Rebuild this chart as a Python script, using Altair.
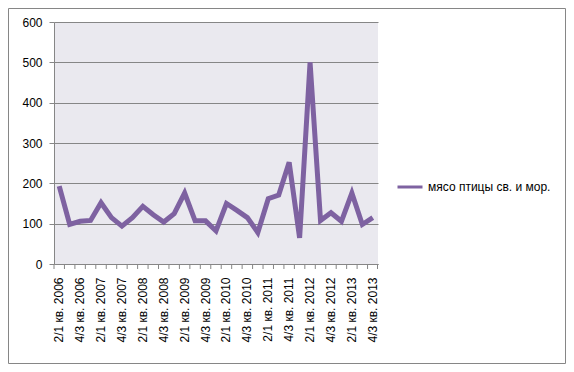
import altair as alt
import pandas as pd

categories = [
    "2/1 кв. 2006", "3/2 кв. 2006", "4/3 кв. 2006",
    "1/4 кв. 2007", "2/1 кв. 2007", "3/2 кв. 2007", "4/3 кв. 2007",
    "1/4 кв. 2008", "2/1 кв. 2008", "3/2 кв. 2008", "4/3 кв. 2008",
    "1/4 кв. 2009", "2/1 кв. 2009", "3/2 кв. 2009", "4/3 кв. 2009",
    "1/4 кв. 2010", "2/1 кв. 2010", "3/2 кв. 2010", "4/3 кв. 2010",
    "1/4 кв. 2011", "2/1 кв. 2011", "3/2 кв. 2011", "4/3 кв. 2011",
    "1/4 кв. 2012", "2/1 кв. 2012", "3/2 кв. 2012", "4/3 кв. 2012",
    "1/4 кв. 2013", "2/1 кв. 2013", "3/2 кв. 2013", "4/3 кв. 2013",
]
values = [193, 98, 106, 108, 152, 115, 94, 115, 143, 122, 104, 125, 176, 107, 107, 82,
          150, 133, 115, 78, 162, 171, 252, 65, 500, 108, 127, 106, 176, 98, 115]
series_name = "мясо птицы св. и мор."
y_ticks = [0, 100, 200, 300, 400, 500, 600]
shown_labels = categories[0::2]

df = pd.DataFrame({"cat": categories, "val": values, "series": [series_name] * len(values)})

FONT = "Liberation Sans"
GRAY = "#868686"
W, H = 324, 242
BAND = W / len(categories)

xenc = alt.X("cat:N", sort=categories, title=None,
             scale=alt.Scale(paddingInner=0, paddingOuter=0),
             axis=alt.Axis(values=shown_labels, labelAngle=270, ticks=False,
                           domainColor=GRAY, labelPadding=13,
                           labelFont=FONT, labelFontSize=12, labelColor="#000000",
                           grid=False))

line = alt.Chart(df).mark_line(strokeWidth=5).encode(
    x=xenc,
    y=alt.Y("val:Q", title=None,
            scale=alt.Scale(domain=[0, 600], nice=False),
            axis=alt.Axis(values=y_ticks, tickSize=5, tickColor=GRAY, domainColor=GRAY,
                          gridColor=GRAY, gridWidth=1, labelPadding=7,
                          labelFont=FONT, labelFontSize=12, labelColor="#000000")),
    color=alt.Color("series:N", scale=alt.Scale(range=["#7E62A1"]),
                    legend=alt.Legend(title=None, orient="none", legendX=342, legendY=151,
                                      symbolType="stroke", symbolSize=625, symbolStrokeWidth=3,
                                      labelFont=FONT, labelFontSize=12, labelColor="#000000",
                                      labelOffset=4)),
)

ticks = alt.Chart(df).mark_rule(color=GRAY, strokeWidth=1, xOffset=-BAND / 2).encode(
    x=alt.X("cat:N", sort=categories),
    y=alt.value(H), y2=alt.value(H + 5),
)
last_tick = alt.Chart(pd.DataFrame({"a": [0]})).mark_rule(color=GRAY, strokeWidth=1).encode(
    x=alt.value(W - 0.5), y=alt.value(H), y2=alt.value(H + 5),
)

border = alt.Chart(pd.DataFrame({"a": [0]})).mark_rect(
    fillOpacity=0, stroke=GRAY, strokeWidth=1
).encode(x=alt.value(-45.5), x2=alt.value(511.5), y=alt.value(-13.5), y2=alt.value(341.5))

chart = alt.layer(line, ticks, last_tick, border).properties(
    width=W, height=H,
    background="#FFFFFF",
    autosize=alt.AutoSizeParams(type="none"),
    padding={"left": 46, "top": 14, "right": 188, "bottom": 100},
).configure_view(fill="#EAE9EF", strokeWidth=0)

chart.save("out.html", embed_options={"renderer": "svg", "actions": False})
